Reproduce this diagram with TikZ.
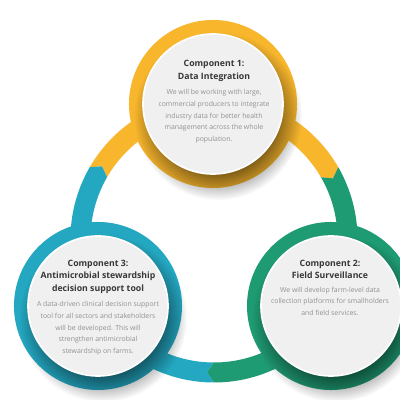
\documentclass[tikz,border=0pt]{standalone}
\usepackage{fontspec}
\setmainfont{Open Sans}
\usetikzlibrary{positioning,fadings}
\definecolor{ringyellow}{RGB}{248,182,45}
\definecolor{ringteal}{RGB}{36,168,194}
\definecolor{ringgreen}{RGB}{31,155,115}
\definecolor{diskgray}{RGB}{240,240,240}
\definecolor{titlegray}{RGB}{55,55,55}
\definecolor{bodygray}{RGB}{145,145,145}
\pgfdeclareradialshading{shadowfade}{\pgfpointorigin}{color(0bp)=(pgftransparent!0); color(15bp)=(pgftransparent!0); color(25bp)=(pgftransparent!100); color(50bp)=(pgftransparent!100)}
\pgfdeclarefading{diskshadow}{\pgfuseshading{shadowfade}}
\begin{document}
\begin{tikzpicture}[x=0.025cm, y=0.025cm,
  ringnode/.style={circle, minimum size=4.2cm, inner sep=0pt},
  disknode/.style={circle, fill=diskgray, draw=white, line width=0.04cm, minimum size=3.5cm, inner sep=0pt},
  titletext/.style={anchor=north, align=center, text=titlegray, font=\bfseries\fontsize{6.2}{9}\selectfont, inner sep=0pt},
  bodytext/.style={align=center, text=bodygray, font=\fontsize{4.9}{8.3}\selectfont, inner sep=0pt}]
\fill[white] (0,0) rectangle (400,400);
\useasboundingbox (0,0) rectangle (400,400);
% big ring, one arc per component
\begin{scope}[shift={(214,161)}]
\foreach \s/\e/\col in {30/150/ringyellow, 150/270/ringteal, 270/390/ringgreen}
  \fill[\col] (\s:143.5) arc[start angle=\s, end angle=\e, radius=143.5] -- (\e-3:133.5) -- (\e:123.5)
    arc[start angle=\e, end angle=\s, radius=123.5] -- (\s-3:133.5) -- cycle;
\end{scope}
% component rings
\node[ringnode, fill=ringyellow] (c1) at (213,296) {};
\node[ringnode, fill=ringgreen] (c2) at (331,94) {};
\node[ringnode, fill=ringteal] (c3) at (98,94) {};
\foreach \n in {c1,c2,c3}
  \fill[black, opacity=0.6, path fading=diskshadow] ([shift={(5,-12)}]\n.center) circle[radius=84];
\node[disknode] (d1) at (c1) {};
\node[disknode] (d2) at (c2) {};
\node[disknode] (d3) at (c3) {};
% texts
\node[titletext] (t1) at (214,340) {Component 1:\\Data Integration};
\node[bodytext, below=0.19cm of t1] (b1) {We will be working with large,\\commercial producers to integrate\\industry data for better health\\management across the whole\\population.};
\node[titletext] (t2) at (330,140.5) {Component 2:\\Field Surveillance};
\node[bodytext, below=0.19cm of t2] (b2) {We will develop farm-level data\\collection platforms for smallholders\\and field services.};
\node[titletext] (t3) at (98,140.5) {Component 3:\\Antimicrobial stewardship\\decision support tool};
\node[bodytext, below=0.19cm of t3] (b3) {A data-driven clinical decision support\\tool for all sectors and stakeholders\\will be developed. This will\\strengthen antimicrobial\\stewardship on farms.};
\end{tikzpicture}
\end{document}
